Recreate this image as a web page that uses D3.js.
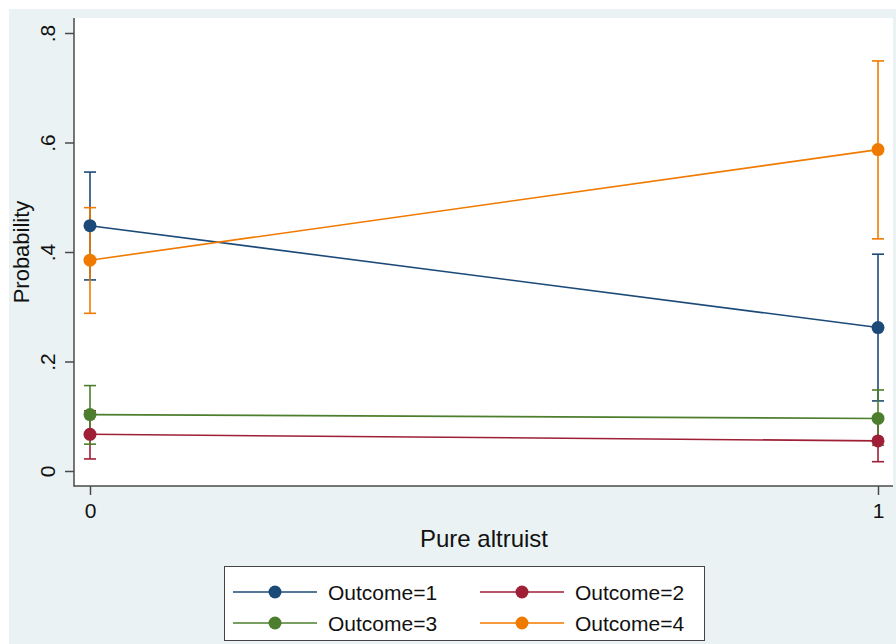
<!DOCTYPE html>
<html>
<head>
<meta charset="utf-8">
<script src="https://cdn.jsdelivr.net/npm/d3@7"></script>
<style>
  html, body { margin: 0; padding: 0; background: #ffffff; }
  svg { display: block; font-family: "Liberation Sans", Arial, Helvetica, sans-serif; }
</style>
</head>
<body>
<svg id="chart" width="896" height="644"></svg>
<script>
// Predicted probabilities by pure-altruist status, with 95% confidence intervals
const xValues = [0, 1];
const xTickLabels = ["0", "1"];
const yTicks = [0, 0.2, 0.4, 0.6, 0.8];
const yTickLabels = ["0", ".2", ".4", ".6", ".8"];

const seriesNames = ["Outcome=1", "Outcome=2", "Outcome=3", "Outcome=4"];
const seriesColors = ["#1c4a78", "#9e1f36", "#4d7e2d", "#f07a00"];

const outcome1 = [0.448, 0.262];
const outcome1Lo = [0.349, 0.128];
const outcome1Hi = [0.546, 0.396];

const outcome2 = [0.067, 0.055];
const outcome2Lo = [0.022, 0.017];
const outcome2Hi = [0.110, 0.093];

const outcome3 = [0.103, 0.096];
const outcome3Lo = [0.049, 0.047];
const outcome3Hi = [0.156, 0.148];

const outcome4 = [0.385, 0.587];
const outcome4Lo = [0.288, 0.424];
const outcome4Hi = [0.481, 0.749];

const series = [
  { name: seriesNames[0], color: seriesColors[0], est: outcome1, lo: outcome1Lo, hi: outcome1Hi },
  { name: seriesNames[1], color: seriesColors[1], est: outcome2, lo: outcome2Lo, hi: outcome2Hi },
  { name: seriesNames[2], color: seriesColors[2], est: outcome3, lo: outcome3Lo, hi: outcome3Hi },
  { name: seriesNames[3], color: seriesColors[3], est: outcome4, lo: outcome4Lo, hi: outcome4Hi }
];

const svg = d3.select("#chart");
const W = 896, H = 644;
const frame = { left: 74, right: 893, top: 18, bottom: 486 };
const axisColor = "#4a4a4a";

// Graph background and plot region
svg.append("rect").attr("x", 9).attr("y", 9).attr("width", W - 9).attr("height", H - 9)
  .attr("fill", "#eaf2f3");
svg.append("rect").attr("x", frame.left).attr("y", frame.top)
  .attr("width", frame.right - frame.left).attr("height", frame.bottom - frame.top)
  .attr("fill", "#ffffff");

const x = d3.scaleLinear().domain([0, 1]).range([90, 878]);
const y = d3.scaleLinear().domain([0, 0.8]).range([471, 33]);

// Y axis
const yAxis = svg.append("g")
  .attr("transform", `translate(${frame.left},0)`)
  .call(d3.axisLeft(y).tickValues(yTicks).tickSize(9).tickSizeOuter(0)
    .tickFormat((d, i) => yTickLabels[i]));
yAxis.select(".domain").remove();
yAxis.selectAll(".tick line").attr("stroke", axisColor).attr("stroke-width", 1.5);
yAxis.selectAll(".tick text")
  .attr("x", null).attr("dy", null)
  .attr("transform", "translate(-19,0) rotate(-90)")
  .attr("text-anchor", "middle")
  .attr("font-size", 21)
  .attr("fill", "#111");

// X axis
const xAxis = svg.append("g")
  .attr("transform", `translate(0,${frame.bottom})`)
  .call(d3.axisBottom(x).tickValues(xValues).tickSize(9).tickSizeOuter(0)
    .tickFormat((d, i) => xTickLabels[i]));
xAxis.select(".domain").remove();
xAxis.selectAll(".tick line").attr("stroke", axisColor).attr("stroke-width", 1.5);
xAxis.selectAll(".tick text")
  .attr("y", 32).attr("dy", null)
  .attr("font-size", 21)
  .attr("fill", "#111");

// Axis lines spanning the plot region
svg.append("line").attr("x1", frame.left).attr("x2", frame.left)
  .attr("y1", frame.top).attr("y2", frame.bottom + 0.75)
  .attr("stroke", axisColor).attr("stroke-width", 1.5);
svg.append("line").attr("x1", frame.left).attr("x2", frame.right)
  .attr("y1", frame.bottom).attr("y2", frame.bottom)
  .attr("stroke", axisColor).attr("stroke-width", 1.5);

// Axis titles
svg.append("text").attr("x", (x(0) + x(1)) / 2).attr("y", 547)
  .attr("text-anchor", "middle").attr("font-size", 24).attr("fill", "#111")
  .text("Pure altruist");
svg.append("text")
  .attr("transform", `translate(29,${y(0.4)}) rotate(-90)`)
  .attr("text-anchor", "middle").attr("font-size", 22).attr("fill", "#111")
  .text("Probability");

// Confidence interval caps
const capHalf = 6;
const ciLayer = svg.append("g");
series.forEach(s => {
  const g = ciLayer.append("g").attr("stroke", s.color).attr("stroke-width", 1.6).attr("fill", "none");
  xValues.forEach((xv, i) => {
    g.append("line").attr("x1", x(xv)).attr("x2", x(xv))
      .attr("y1", y(s.lo[i])).attr("y2", y(s.hi[i]));
    g.append("line").attr("x1", x(xv) - capHalf).attr("x2", x(xv) + capHalf)
      .attr("y1", y(s.lo[i])).attr("y2", y(s.lo[i]));
    g.append("line").attr("x1", x(xv) - capHalf).attr("x2", x(xv) + capHalf)
      .attr("y1", y(s.hi[i])).attr("y2", y(s.hi[i]));
  });
});

// Connected lines and markers
const line = d3.line().x((d, i) => x(xValues[i])).y(d => y(d));
const markLayer = svg.append("g");
series.forEach(s => {
  markLayer.append("path").datum(s.est)
    .attr("d", line).attr("fill", "none")
    .attr("stroke", s.color).attr("stroke-width", 1.6);
  markLayer.selectAll(null).data(s.est).enter().append("circle")
    .attr("cx", (d, i) => x(xValues[i])).attr("cy", d => y(d))
    .attr("r", 6.5).attr("fill", s.color);
});

// Legend
const legend = svg.append("g");
legend.append("rect").attr("x", 224.5).attr("y", 566.5).attr("width", 480).attr("height", 74)
  .attr("fill", "#ffffff").attr("stroke", "#444").attr("stroke-width", 1);
const legendPos = [
  { lx: 233, ty: 592 }, { lx: 480, ty: 592 },
  { lx: 233, ty: 623 }, { lx: 480, ty: 623 }
];
series.forEach((s, i) => {
  const p = legendPos[i];
  legend.append("line").attr("x1", p.lx).attr("x2", p.lx + 84)
    .attr("y1", p.ty).attr("y2", p.ty)
    .attr("stroke", s.color).attr("stroke-width", 1.6);
  legend.append("circle").attr("cx", p.lx + 42).attr("cy", p.ty).attr("r", 6.5).attr("fill", s.color);
  legend.append("text").attr("x", p.lx + 95).attr("y", p.ty + 7.5)
    .attr("font-size", 21).attr("fill", "#111").text(s.name);
});
</script>
</body>
</html>
